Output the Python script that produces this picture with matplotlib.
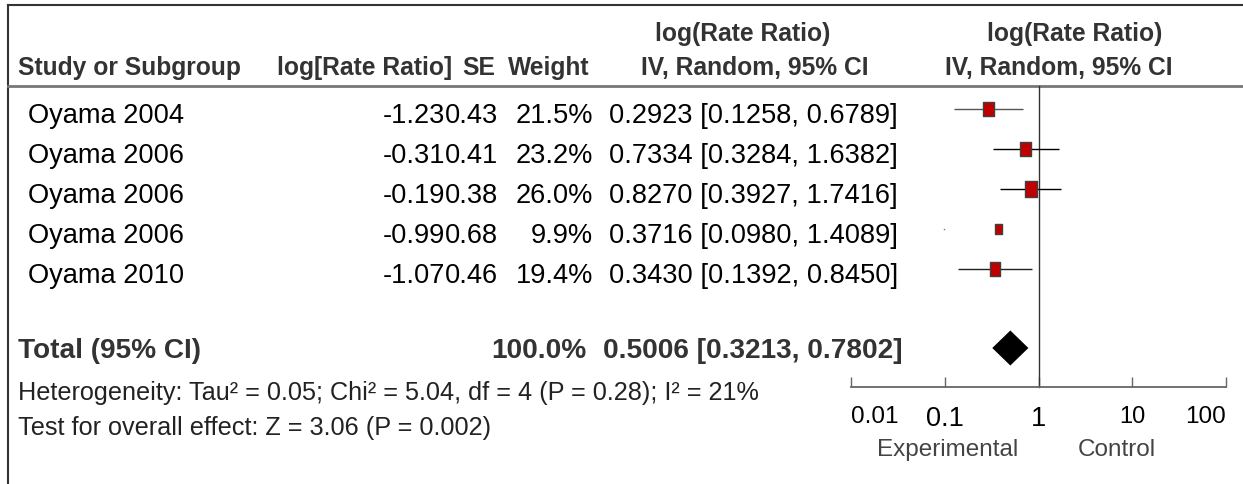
import numpy as np
import matplotlib.pyplot as plt
from matplotlib.path import Path

plt.rcParams['font.family'] = ['Liberation Sans', 'DejaVu Sans']

# study data
studies = ["Oyama 2004", "Oyama 2006", "Oyama 2006", "Oyama 2006", "Oyama 2010"]
log_rr = ["-1.23", "-0.31", "-0.19", "-0.99", "-1.07"]
se = ["0.43", "0.41", "0.38", "0.68", "0.46"]
weight = [21.5, 23.2, 26.0, 9.9, 19.4]
rr = [0.2923, 0.7334, 0.8270, 0.3716, 0.3430]
ci_lo = [0.1258, 0.3284, 0.3927, 0.0980, 0.1392]
ci_hi = [0.6789, 1.6382, 1.7416, 1.4089, 0.8450]

total_rr = 0.5006
total_lo = 0.3213
total_hi = 0.7802
total_weight = 100.0

het_text = "Heterogeneity: Tau² = 0.05; Chi² = 5.04, df = 4 (P = 0.28); I² = 21%"
test_text = "Test for overall effect: Z = 3.06 (P = 0.002)"

tick_vals = [0.01, 0.1, 1, 10, 100]
tick_labels = ["0.01", "0.1", "1", "10", "100"]

W, H = 1243, 485
fig = plt.figure(figsize=(W / 100, H / 100), dpi=100)

# pixel-coordinate layer for the table part
tab = fig.add_axes([0, 0, 1, 1])
tab.set_xlim(0, W)
tab.set_ylim(H, 0)
tab.axis('off')

tab.plot([8, W], [6, 6], color='#333333', lw=1.5)
tab.plot([8, 8], [6, H], color='#333333', lw=1.5)
tab.plot([8, W], [87, 87], color='#777777', lw=2)

hdr = dict(fontsize=17.7, fontweight='bold', color='#333333')
tab.text(18, 75, "Study or Subgroup", ha='left', **hdr)
tab.text(277, 75, "log[Rate Ratio]", ha='left', **hdr)
tab.text(462, 75, "SE", ha='left', **hdr)
tab.text(508, 75, "Weight", ha='left', **hdr)
tab.text(743, 41, "log(Rate Ratio)", ha='center', **hdr)
tab.text(755, 75, "IV, Random, 95% CI", ha='center', **hdr)
tab.text(1075, 41, "log(Rate Ratio)", ha='center', **hdr)
tab.text(1059, 75, "IV, Random, 95% CI", ha='center', **hdr)

row_y = [110 + 40 * i for i in range(len(studies))]
total_y = 349

body = dict(fontsize=19.6, color='black', va='baseline')
for i, y in enumerate(row_y):
    yb = y + 13
    tab.text(28, yb, studies[i], ha='left', **body)
    tab.text(445, yb, log_rr[i], ha='right', **body)
    tab.text(498, yb, se[i], ha='right', **body)
    tab.text(593, yb, f"{weight[i]:.1f}%", ha='right', **body)
    tab.text(898, yb, f"{rr[i]:.4f} [{ci_lo[i]:.4f}, {ci_hi[i]:.4f}]",
             ha='right', **body)

tot = dict(fontsize=20.2, fontweight='bold', color='#333333', va='baseline')
tab.text(18, total_y + 9, "Total (95% CI)", ha='left', **tot)
tab.text(587, total_y + 9, f"{total_weight:.1f}%", ha='right', **tot)
tab.text(903, total_y + 9, f"{total_rr:.4f} [{total_lo:.4f}, {total_hi:.4f}]",
         ha='right', **tot)

tab.text(18, 400, het_text, fontsize=18.2, color='#222222', va='baseline')
tab.text(18, 435, test_text, fontsize=18.2, color='#222222', va='baseline')

# forest plot panel
x0, x1 = 851, 1226
y_top, y_axis = 87, 388
ax = fig.add_axes([x0 / W, (H - y_axis) / H, (x1 - x0) / W, (y_axis - y_top) / H])
ax.set_facecolor('none')
ax.set_xscale('log')
ax.set_xlim(tick_vals[0], tick_vals[-1])
ax.set_ylim(y_axis, y_top)
ax.minorticks_off()
for s in ['top', 'left', 'right']:
    ax.spines[s].set_visible(False)
ax.spines['bottom'].set_color('#666666')
ax.spines['bottom'].set_linewidth(1.3)
ax.set_yticks([])
ax.set_xticks(tick_vals)
ax.set_xticklabels(tick_labels)
ax.tick_params(axis='x', direction='in', length=7.5, width=1, color='#666666',
               pad=13, labelcolor='black')
sizes = [17.5, 19.5, 19.5, 17, 17.5]
for lab, sz in zip(ax.get_xticklabels(), sizes):
    lab.set_fontsize(sz)
labs = ax.get_xticklabels()
labs[0].set_ha('left')
labs[-1].set_ha('right')

ax.axvline(1, color='#333333', lw=1)

# confidence interval whiskers; the fourth one shows only its lower end
line_cols = ['#555555', 'black', 'black', 'black', '#222222']
for i, y in enumerate(row_y):
    if i == 3:
        ax.plot([ci_lo[i]], [y], marker='s', ms=1, color='#777777', mew=0)
    else:
        ax.hlines(y, ci_lo[i], ci_hi[i], color=line_cols[i], lw=1)

# weight-scaled boxes (taller than wide)
box = Path([(-0.75, -1), (0.75, -1), (0.75, 1), (-0.75, 1), (-0.75, -1)],
           [Path.MOVETO, Path.LINETO, Path.LINETO, Path.LINETO, Path.CLOSEPOLY])
ax.scatter(rr, row_y, s=[4.8 * w for w in weight], marker=box,
           facecolor='#c00000', edgecolor='#404040', linewidths=1, zorder=3)

# pooled estimate diamond
dh = 17.5
ax.fill([total_lo, total_rr, total_hi, total_rr],
        [total_y, total_y - dh, total_y, total_y + dh], color='black', lw=0)

for art in ax.get_children():
    art.set_clip_on(False)

tab.text(948, 450, "Experimental", ha='center', va='center',
         fontsize=17.5, color='#444444')
tab.text(1117, 450, "Control", ha='center', va='center',
         fontsize=17.5, color='#444444')

fig.savefig('out.png', dpi=100)
